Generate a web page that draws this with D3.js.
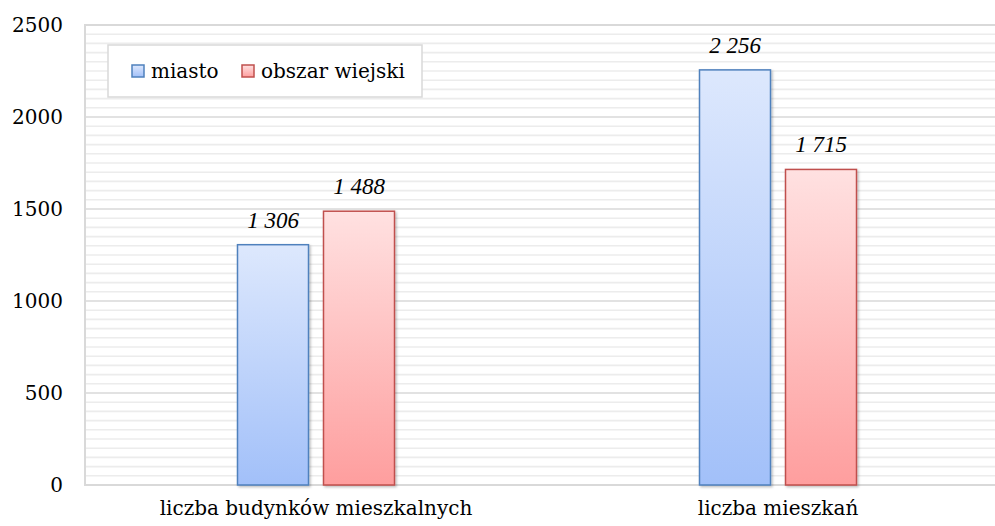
<!DOCTYPE html>
<html>
<head>
<meta charset="utf-8">
<script src="https://cdn.jsdelivr.net/npm/d3@7"></script>
<style>
  body { margin: 0; background: #fff; }
  svg { display: block; font-family: "DejaVu Serif", serif; }
</style>
</head>
<body>
<svg id="chart" width="995" height="526"></svg>
<script>
const categories = ['liczba budynków mieszkalnych', 'liczba mieszkań']
const seriesNames = ['miasto', 'obszar wiejski']
const miasto = [1306, 2256]
const obszarWiejski = [1488, 1715]
const yTicks = [0, 500, 1000, 1500, 2000, 2500]

const colors = {
  miasto: { top: '#dde8fd', bottom: '#a2c0f9', stroke: '#4f81bd' },
  'obszar wiejski': { top: '#ffe1e1', bottom: '#fe9e9e', stroke: '#c0504d' }
}

const margin = { left: 85, top: 25 }
const width = 924
const height = 460
const font = '"DejaVu Serif", serif'

const svg = d3.select('#chart')
const defs = svg.append('defs')
seriesNames.forEach((name, i) => {
  const g = defs.append('linearGradient')
    .attr('id', 'grad' + i)
    .attr('x1', 0).attr('y1', 0).attr('x2', 0).attr('y2', 1)
  g.append('stop').attr('offset', '0%').attr('stop-color', colors[name].top)
  g.append('stop').attr('offset', '100%').attr('stop-color', colors[name].bottom)
})
const shadow = defs.append('filter').attr('id', 'shadow')
  .attr('x', '-10%').attr('y', '-10%').attr('width', '130%').attr('height', '130%')
shadow.append('feDropShadow')
  .attr('dx', 1.5).attr('dy', 1.5).attr('stdDeviation', 1)
  .attr('flood-color', '#000').attr('flood-opacity', 0.25)

const data = categories.map((c, i) => ({
  cat: c,
  values: [
    { name: 'miasto', value: miasto[i], idx: 0 },
    { name: 'obszar wiejski', value: obszarWiejski[i], idx: 1 }
  ]
}))

const x = d3.scaleBand().domain(categories).range([0, width])
const y = d3.scaleLinear().domain([0, 2500]).range([height, 0])
const barW = 71
const gap = 15
const xSub = d3.scaleOrdinal().domain(seriesNames)
  .range([-(barW + gap / 2), gap / 2])

const fmt = d3.formatLocale({ decimal: ',', thousands: ' ', grouping: [3], currency: ['', ''] }).format(',d')

const g = svg.append('g').attr('transform', `translate(${margin.left},${margin.top})`)

// minor grid lines every 50
g.append('g')
  .selectAll('line')
  .data(d3.range(50, 2500, 50).filter((v) => v % 500 !== 0))
  .join('line')
  .attr('x1', 0).attr('x2', width)
  .attr('y1', (d) => y(d)).attr('y2', (d) => y(d))
  .attr('stroke', '#ececec').attr('stroke-width', 1.6)

// major grid lines
g.append('g')
  .selectAll('line')
  .data(yTicks.slice(1, -1))
  .join('line')
  .attr('x1', 0).attr('x2', width)
  .attr('y1', (d) => y(d)).attr('y2', (d) => y(d))
  .attr('stroke', '#d9d9d9').attr('stroke-width', 1.6)

// plot border
g.append('rect')
  .attr('x', 0).attr('y', 0).attr('width', width).attr('height', height)
  .attr('fill', 'none').attr('stroke', '#d9d9d9').attr('stroke-width', 2)

// y axis labels
const yAxis = g.append('g')
  .call(d3.axisLeft(y).tickValues(yTicks).tickSize(0).tickPadding(22).tickFormat(d3.format('d')))
yAxis.select('.domain').remove()
yAxis.selectAll('text')
  .attr('font-size', 20).attr('fill', '#000')
  .attr('font-family', font)

// x axis labels
const xAxis = g.append('g')
  .attr('transform', `translate(0,${height})`)
  .call(d3.axisBottom(x).tickSize(0).tickPadding(16))
xAxis.select('.domain').remove()
xAxis.selectAll('text')
  .attr('font-size', 20).attr('fill', '#000')
  .attr('font-family', font)

// bars
const groups = g.selectAll('.group')
  .data(data)
  .join('g')
  .attr('class', 'group')
  .attr('transform', (d) => `translate(${x(d.cat) + x.bandwidth() / 2},0)`)

groups.selectAll('rect')
  .data((d) => d.values)
  .join('rect')
  .attr('x', (d) => xSub(d.name))
  .attr('y', (d) => y(d.value))
  .attr('width', barW)
  .attr('height', (d) => height - y(d.value))
  .attr('fill', (d) => `url(#grad${d.idx})`)
  .attr('stroke', (d) => colors[d.name].stroke)
  .attr('stroke-width', 1.5)
  .attr('filter', 'url(#shadow)')

groups.selectAll('.label')
  .data((d) => d.values)
  .join('text')
  .attr('class', 'label')
  .attr('x', (d) => xSub(d.name) + barW / 2)
  .attr('y', (d) => y(d.value) - 17)
  .attr('text-anchor', 'middle')
  .attr('font-size', 23)
  .attr('font-style', 'italic')
  .attr('font-family', '"Liberation Serif", serif')
  .text((d) => fmt(d.value))

// legend
const legend = svg.append('g').attr('transform', 'translate(108,45)')
legend.append('rect')
  .attr('width', 314).attr('height', 52)
  .attr('fill', '#fff').attr('stroke', '#d9d9d9').attr('stroke-width', 1.5)
const legX = [24, 134]
seriesNames.forEach((name, i) => {
  legend.append('rect')
    .attr('x', legX[i]).attr('y', 20).attr('width', 12).attr('height', 12)
    .attr('fill', `url(#grad${i})`)
    .attr('stroke', colors[name].stroke).attr('stroke-width', 1.5)
  legend.append('text')
    .attr('x', legX[i] + 19).attr('y', 33)
    .attr('font-size', 20)
    .text(name)
})
</script>
</body>
</html>
